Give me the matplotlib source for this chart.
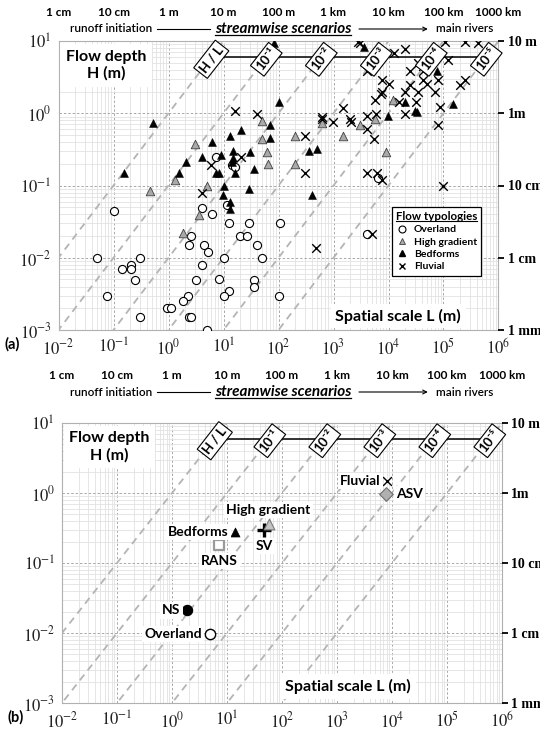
import numpy as np
import matplotlib
matplotlib.use("Agg")
import matplotlib.pyplot as plt
from matplotlib.lines import Line2D
from matplotlib.patches import FancyArrowPatch
from matplotlib.ticker import FixedLocator, FixedFormatter, LogLocator, NullFormatter, NullLocator

plt.rcParams["font.family"] = ["Lato", "DejaVu Sans"]
plt.rcParams["mathtext.fontset"] = "stix"

# ── panel (a): flow depth H (m) vs spatial scale L (m), by flow typology ─────
over_L = [0.10, 4.1, 6.1, 11.4, 7.2, 14.3, 16.4, 2.6, 2.4, 4.5, 5.2, 12.6, 29, 105, 20, 27,
          40, 10, 50, 0.05, 0.145, 0.21, 0.21, 0.30, 0.25, 0.077, 0.30, 4.1, 3.1, 8.3, 36,
          36, 12.6, 10.2, 2.3, 1.86, 0.93, 1.1, 2.4, 2.55, 5.0, 100, 6400, 4000]
over_H = [0.045, 0.049, 0.040, 0.053, 0.25, 0.19, 0.18, 0.020, 0.015, 0.015, 0.012, 0.030,
          0.030, 0.030, 0.020, 0.020, 0.015, 0.010, 0.010, 0.0099, 0.0070, 0.0080, 0.0070,
          0.0099, 0.0049, 0.0030, 0.0015, 0.0080, 0.0049, 0.0051, 0.0049, 0.0040, 0.0035,
          0.0030, 0.0030, 0.0025, 0.0020, 0.0020, 0.0015, 0.0015, 0.0010, 0.0030, 0.126, 0.021]

high_L = [0.46, 3.0, 1.34, 5.1, 3.6, 1.86, 51, 51, 62, 65, 200, 200, 1500, 610, 3000, 5600,
          12200, 8900]
high_H = [0.084, 0.38, 0.118, 0.099, 0.039, 0.022, 0.77, 0.44, 0.29, 0.20, 0.196, 0.48, 0.48,
          0.73, 0.68, 0.83, 1.53, 0.29]

bed_L = [0.52, 0.155, 2.06, 1.54, 6.1, 4.1, 9.0, 7.4, 8.4, 13.1, 21, 15, 15, 14.1, 30, 16, 36,
         10.2, 9.9, 29, 13.4, 12.9, 70, 100, 70, 83, 360, 510, 410, 3600, 9700, 20000, 30000,
         32500, 75000, 150000]
bed_H = [0.73, 0.148, 0.21, 0.147, 0.40, 0.25, 0.265, 0.148, 0.148, 0.49, 0.59, 0.30, 0.24,
         0.21, 0.29, 0.148, 0.167, 0.099, 0.074, 0.089, 0.060, 0.047, 0.68, 1.45, 0.45, 9.5,
         0.30, 0.32, 0.074, 8.2, 0.91, 1.45, 1.09, 1.05, 3.8, 1.34]

fluv_L = [6.0, 4.0, 16.4, 40, 21, 300, 480, 300, 610, 610, 990, 1500, 2000, 2050, 4100, 5500,
          4150, 6000, 20000, 5600, 15500, 32000, 7700, 7300, 20000, 34000, 70000, 7500, 10000,
          24600, 43000, 49500, 80000, 4100, 24600, 43000, 35000, 42000, 122000, 87500, 79000,
          99000, 200000, 246000, 2800, 3000, 12700, 20000, 106000, 246000, 430000, 4000, 6100,
          7500, 5000]
fluv_H = [0.19, 0.079, 1.08, 0.99, 0.25, 0.148, 0.0138, 0.49, 0.88, 0.83, 0.75, 1.17, 0.82,
          0.76, 0.60, 0.44, 0.93, 0.98, 0.99, 1.53, 1.45, 1.45, 1.95, 1.84, 1.95, 1.95, 1.95,
          2.9, 2.5, 2.46, 2.9, 2.5, 2.9, 3.9, 3.85, 3.8, 5.0, 4.5, 5.5, 1.23, 0.69, 0.099, 2.46,
          2.9, 9.8, 9.5, 6.8, 7.7, 9.8, 9.8, 9.5, 0.148, 0.148, 0.12, 0.021]

# ── panel (b): representative scales of typologies and models ────────────────
sum_names = ["NS", "Overland", "RANS", "Bedforms", "SV", "High gradient", "Fluvial", "ASV"]
sum_L = [1.85, 5.0, 7.3, 14, 48, 57, 8000, 7800]
sum_H = [0.021, 0.0098, 0.18, 0.28, 0.30, 0.355, 1.5, 0.97]

# ── reference lines and scale labels ─────────────────────────────────────────
ratios = [1, 1e-1, 1e-2, 1e-3, 1e-4, 1e-5]
ratio_labels = ["H / L", "10⁻¹", "10⁻²", "10⁻³", "10⁻⁴", "10⁻⁵"]
x_decades = [1e-2, 1e-1, 1e0, 1e1, 1e2, 1e3, 1e4, 1e5, 1e6]
x_ticklabels = [r"$\mathrm{10^{-2}}$", r"$\mathrm{10^{-1}}$", r"$\mathrm{10^{0}}$",
                r"$\mathrm{10^{1}}$", r"$\mathrm{10^{2}}$", r"$\mathrm{10^{3}}$",
                r"$\mathrm{10^{4}}$", r"$\mathrm{10^{5}}$", r"$\mathrm{10^{6}}$"]
x_units = ["1 cm", "10 cm", "1 m", "10 m", "100 m", "1 km", "10 km", "100 km", "1000 km"]
y_decades = [1e-3, 1e-2, 1e-1, 1e0, 1e1]
y_ticklabels = [r"$\mathrm{10^{-3}}$", r"$\mathrm{10^{-2}}$", r"$\mathrm{10^{-1}}$",
                r"$\mathrm{10^{0}}$", r"$\mathrm{10^{1}}$"]
y_units = ["1 mm", "1 cm", "10 cm", "1m", "10 m"]
H_LABEL = 6.0   # depth at which the H/L ratio tags sit

W, H = 540, 729
fig = plt.figure(figsize=(W / 100, H / 100), dpi=100)


def px_axes(x0, x1, ytop, ybot):
    return fig.add_axes([x0 / W, 1 - ybot / H, (x1 - x0) / W, (ybot - ytop) / H])


ax_a = px_axes(58.5, 498.5, 41, 330)
ax_b = px_axes(62, 502, 423, 703)

scale_texts = []


def frame(ax, row1_y, row2_y, panel, spatial_xy):
    ax.set_xscale("log")
    ax.set_yscale("log")
    ax.set_xlim(1e-2, 1e6)
    ax.set_ylim(1e-3, 1e1)
    ax.xaxis.set_major_locator(FixedLocator(x_decades))
    ax.xaxis.set_major_formatter(FixedFormatter(x_ticklabels))
    ax.yaxis.set_major_locator(FixedLocator(y_decades))
    ax.yaxis.set_major_formatter(FixedFormatter(y_ticklabels))
    ax.xaxis.set_minor_locator(LogLocator(base=10, subs=np.arange(2, 10), numticks=20))
    ax.yaxis.set_minor_locator(LogLocator(base=10, subs=np.arange(2, 10), numticks=20))
    ax.xaxis.set_minor_formatter(NullFormatter())
    ax.yaxis.set_minor_formatter(NullFormatter())
    ax.tick_params(which="both", length=0, labelsize=12, colors="#222222")
    ax.tick_params(axis="x", pad=5)
    ax.tick_params(axis="y", pad=5)
    ax.grid(which="minor", color="#e2e2e2", lw=0.6, ls="-", zorder=0)
    ax.grid(which="major", color="#a8a8a8", lw=0.7, ls=(0, (2.5, 2)), zorder=0)
    ax.set_axisbelow(True)
    for s in ax.spines.values():
        s.set_color("#b0b0b0")
        s.set_linewidth(0.8)

    # iso-ratio lines H = r L
    Lr = np.array([1e-3, 1e7])
    for r in ratios:
        ax.plot(Lr, r * Lr, color="#b4b4b4", lw=1.3, ls=(0, (4, 3)), zorder=1)
    ax.plot([H_LABEL / ratios[0], H_LABEL / ratios[-1]], [H_LABEL, H_LABEL],
            color="black", lw=1.1, zorder=4)
    for r, lab in zip(ratios, ratio_labels):
        ax.text(H_LABEL / r, H_LABEL * 0.93, lab, rotation=52, fontsize=9.5,
                fontweight="bold", ha="center", va="center", zorder=5,
                bbox=dict(boxstyle="square,pad=0.2", fc="white", ec="black", lw=0.8))

    # right-hand unit labels
    ax2 = ax.twinx()
    ax2.set_yscale("log")
    ax2.set_ylim(ax.get_ylim())
    ax2.yaxis.set_major_locator(FixedLocator(y_decades))
    ax2.yaxis.set_major_formatter(FixedFormatter(y_units))
    ax2.yaxis.set_minor_locator(NullLocator())
    ax2.tick_params(axis="y", direction="out", length=4, width=1.3, pad=2.5, colors="black")
    for lab in ax2.get_yticklabels():
        lab.set_fontfamily("Liberation Serif")
        lab.set_fontweight("bold")
        lab.set_fontsize(10)
    for s in ax2.spines.values():
        s.set_visible(False)

    ax.text(0.108, 0.97, "Flow depth\nH (m)", transform=ax.transAxes, ha="center", va="top",
            fontsize=11.5, fontweight="bold", linespacing=1.25, zorder=6,
            bbox=dict(boxstyle="square,pad=0.35", fc="white", ec="none"))
    ax.text(spatial_xy[0], spatial_xy[1], "Spatial scale L (m)", transform=ax.transAxes,
            ha="center", va="center", fontsize=11.5, fontweight="bold", zorder=6,
            bbox=dict(boxstyle="square,pad=0.3", fc="white", ec="none"))

    # scale bar above the panel
    blend = matplotlib.transforms.blended_transform_factory(ax.transData, fig.transFigure)
    for xv, u in zip(x_decades, x_units):
        ax.text(xv, 1 - row1_y / H, u, transform=blend, ha="center", va="center",
                fontsize=8.5, fontweight="bold", clip_on=False)
    y2 = 1 - row2_y / H
    t1 = fig.text(70 / W, y2, "runoff initiation", ha="left", va="center", fontsize=8.5,
                  fontweight="semibold")
    t2 = fig.text(283 / W, y2, "streamwise scenarios", ha="center", va="center",
                  fontsize=11, fontweight="bold", style="italic")
    t3 = fig.text(493 / W, y2, "main rivers", ha="right", va="center", fontsize=8.5,
                  fontweight="semibold")
    scale_texts.append((t1, t2, t3, y2))

    ax.text(-0.105, -0.05, panel, transform=ax.transAxes, ha="center", va="center",
            fontsize=10.5, fontweight="bold")


frame(ax_a, 13, 29, "(a)", (0.772, 0.048))
frame(ax_b, 376, 392, "(b)", (0.65, 0.06))

# ── panel (a) markers ────────────────────────────────────────────────────────
ax_a.scatter(over_L, over_H, s=34, marker="o", facecolors="white", edgecolors="black",
             linewidths=0.8, zorder=3)
ax_a.scatter(high_L, high_H, s=38, marker="^", facecolors="#a9a9a9", edgecolors="#404040",
             linewidths=0.6, zorder=3)
ax_a.scatter(bed_L, bed_H, s=32, marker="^", color="black", linewidths=0.4, zorder=3)
ax_a.scatter(fluv_L, fluv_H, s=38, marker="x", color="black", linewidths=1.0, zorder=3)

handles = [
    Line2D([], [], ls="", marker="o", mfc="white", mec="black", ms=5, mew=0.8),
    Line2D([], [], ls="", marker="^", mfc="#a9a9a9", mec="#404040", ms=5, mew=0.6),
    Line2D([], [], ls="", marker="^", mfc="black", mec="black", ms=5),
    Line2D([], [], ls="", marker="x", color="black", ms=5, mew=1.0),
]
leg = ax_a.legend(handles, ["Overland", "High gradient", "Bedforms", "Fluvial"],
                  title="Flow typologies", loc="upper left", bbox_to_anchor=(0.745, 0.445),
                  fancybox=False, framealpha=1, edgecolor="black", borderpad=0.4,
                  labelspacing=0.3, handletextpad=0.5, handlelength=1.2,
                  prop=dict(weight="bold", size=7.5),
                  title_fontproperties=dict(weight="bold", size=8.3))
leg.get_frame().set_linewidth(0.9)
leg.set_zorder(7)

# ── panel (b) markers ────────────────────────────────────────────────────────
styles = {
    "NS": dict(marker="o", s=55, facecolors="black", edgecolors="black", linewidths=0.8),
    "Overland": dict(marker="o", s=55, facecolors="white", edgecolors="black", linewidths=1.0),
    "RANS": dict(marker="s", s=55, facecolors="white", edgecolors="#9a9a9a", linewidths=1.6),
    "Bedforms": dict(marker="^", s=42, facecolors="black", edgecolors="black", linewidths=0.5),
    "SV": dict(marker="+", s=110, color="black", linewidths=2.4),
    "High gradient": dict(marker="^", s=60, facecolors="#c4c4c4", edgecolors="#7a7a7a",
                          linewidths=0.8),
    "Fluvial": dict(marker="x", s=40, color="black", linewidths=1.0),
    "ASV": dict(marker="D", s=48, facecolors="#b0b0b0", edgecolors="#6f6f6f", linewidths=0.8),
}
offsets = {
    "NS": ((-4.5, 0), "right", "center"),
    "Overland": ((-6, 0), "right", "center"),
    "RANS": ((0, -11.5), "center", "center"),
    "Bedforms": ((-4.5, 0), "right", "center"),
    "SV": ((0, -12), "center", "center"),
    "High gradient": ((0, 10.5), "center", "center"),
    "Fluvial": ((-4.5, 0), "right", "center"),
    "ASV": ((7, 0), "left", "center"),
}
for name, lv, hv in zip(sum_names, sum_L, sum_H):
    ax_b.scatter([lv], [hv], zorder=5, **styles[name])
    off, ha, va = offsets[name]
    ax_b.annotate(name, (lv, hv), xytext=off, textcoords="offset points", ha=ha, va=va,
                  fontsize=10, fontweight="bold", zorder=6,
                  bbox=dict(boxstyle="square,pad=0.15", fc="white", ec="none"))

# ── underlines and arrows, placed from the rendered text ─────────────────────
fig.canvas.draw()
rend = fig.canvas.get_renderer()
inv = fig.transFigure.inverted()


def underline(text_artist, drop=1.5, lw=0.9):
    b = inv.transform(text_artist.get_window_extent(rend))
    fig.add_artist(Line2D([b[0, 0], b[1, 0]], [b[0, 1] + drop / H] * 2, color="black",
                          lw=lw, transform=fig.transFigure, zorder=10))


for t1, t2, t3, y2 in scale_texts:
    b1 = inv.transform(t1.get_window_extent(rend))
    b2 = inv.transform(t2.get_window_extent(rend))
    b3 = inv.transform(t3.get_window_extent(rend))
    gap = 5 / W
    fig.add_artist(Line2D([b1[1, 0] + gap, b2[0, 0] - gap], [y2, y2], color="black", lw=0.8,
                          transform=fig.transFigure))
    underline(t2)
    fig.add_artist(FancyArrowPatch(
        (b2[1, 0] + gap, y2), (b3[0, 0] - gap, y2), arrowstyle="->", mutation_scale=7,
        lw=0.8, color="black", transform=fig.transFigure))

underline(leg.get_title(), drop=1.0, lw=0.8)

fig.savefig("out.png", dpi=100)
